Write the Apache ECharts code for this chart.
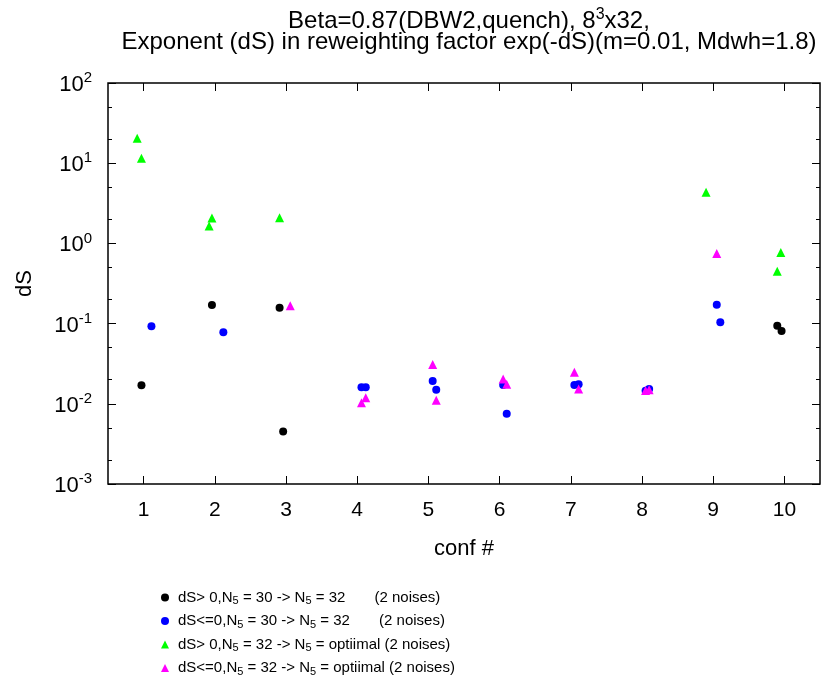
<!DOCTYPE html>
<html>
<head>
<meta charset="utf-8">
<script src="https://cdn.jsdelivr.net/npm/echarts@6/dist/echarts.min.js"></script>
<style>
  html, body { margin: 0; padding: 0; background: #fff; }
  #chart { width: 832px; height: 682px; }
</style>
</head>
<body>
<div id="chart"></div>
<script>
// conf # (with small horizontal offsets as plotted) and dS values
var confBlack = [0.97, 1.96, 2.91, 2.96, 9.90, 9.96];
var dsBlack   = [0.017, 0.17, 0.158, 0.0045, 0.094, 0.081];

var confBlue = [1.11, 2.12, 4.06, 4.12, 5.06, 5.11, 6.05, 6.10, 7.05, 7.11, 8.05, 8.10, 9.05, 9.10];
var dsBlue   = [0.093, 0.078, 0.0161, 0.0161, 0.0192, 0.015, 0.0171, 0.0075, 0.0171, 0.0175, 0.01455, 0.0153, 0.172, 0.104];

var confGreen = [0.91, 0.97, 1.92, 1.96, 2.91, 8.90, 9.90, 9.95];
var dsGreen   = [20.4, 11.5, 1.65, 2.07, 2.09, 4.33, 0.449, 0.77];

var confMagenta = [3.06, 4.06, 4.12, 5.06, 5.11, 6.05, 6.10, 7.05, 7.11, 8.05, 8.10, 9.05];
var dsMagenta   = [0.167, 0.0103, 0.0119, 0.0308, 0.0111, 0.0204, 0.0175, 0.0247, 0.0153, 0.0146, 0.015, 0.75];

var xTicks = [1, 2, 3, 4, 5, 6, 7, 8, 9, 10];
var yMajor = [0.001, 0.01, 0.1, 1, 10, 100];
var yMinor = [0.002, 0.005, 0.02, 0.05, 0.2, 0.5, 2, 5, 20, 50];

var legendNames = [
  'dS> 0,N{s|5} = 30 -> N{s|5} = 32       (2 noises)',
  'dS<=0,N{s|5} = 30 -> N{s|5} = 32       (2 noises)',
  'dS> 0,N{s|5} = 32 -> N{s|5} = optiimal (2 noises)',
  'dS<=0,N{s|5} = 32 -> N{s|5} = optiimal (2 noises)'
];

function pairs(xs, ys) {
  return xs.map(function (x, i) { return [x, ys[i]]; });
}

var font = 'Liberation Sans, Arial, sans-serif';

var chart = echarts.init(document.getElementById('chart'));

function yAxisDef(pos, ticks, len, showLabel) {
  return {
    type: 'log', logBase: 10, min: 0.001, max: 100, position: pos,
    axisLine: { show: false },
    splitLine: { show: false },
    axisTick: { show: true, inside: true, length: len, customValues: ticks,
                lineStyle: { color: '#000', width: 1 } },
    axisLabel: {
      show: showLabel, customValues: ticks, margin: 16,
      formatter: function (v) {
        var e = Math.round(Math.log10(v));
        return '{b|10}{e|' + e + '}';
      },
      rich: {
        b: { fontFamily: font, fontSize: 22, color: '#000', padding: [4, 0, 0, 0] },
        e: { fontFamily: font, fontSize: 15, color: '#000', padding: [0, 0, 10, 0] }
      }
    }
  };
}

chart.setOption({
  backgroundColor: '#fff',
  animation: false,
  title: {
    text: 'Beta=0.87(DBW2,quench), 8{sup|3}x32,\nExponent (dS) in reweighting factor exp(-dS)(m=0.01, Mdwh=1.8)',
    left: 464, top: 6, textAlign: 'center',
    textStyle: {
      fontFamily: font, fontSize: 24, fontWeight: 'normal', color: '#000', lineHeight: 21,
      rich: {
        sup: { fontFamily: font, fontSize: 16, color: '#000', padding: [0, 0, 14, 0] }
      }
    }
  },
  grid: { left: 108, right: 12, top: 83, bottom: 198, show: true, borderColor: '#000', borderWidth: 1.5 },
  xAxis: [{
    type: 'value', min: 0.5, max: 10.5, position: 'bottom',
    name: 'conf #', nameLocation: 'middle', nameGap: 54,
    nameTextStyle: { fontFamily: font, fontSize: 22, color: '#000' },
    axisLine: { show: false },
    splitLine: { show: false },
    axisTick: { inside: true, length: 8, customValues: xTicks, lineStyle: { color: '#000' } },
    axisLabel: { customValues: xTicks, margin: 16, fontFamily: font, fontSize: 21, color: '#000' }
  }, {
    type: 'value', min: 0.5, max: 10.5, position: 'top',
    axisLine: { show: false },
    splitLine: { show: false },
    axisTick: { inside: true, length: 8, customValues: xTicks, lineStyle: { color: '#000' } },
    axisLabel: { show: false }
  }],
  yAxis: [
    Object.assign(yAxisDef('left', yMajor, 8, true), {
      name: 'dS', nameLocation: 'middle', nameGap: 72, nameRotate: 90,
      nameTextStyle: { fontFamily: font, fontSize: 22, color: '#000' }
    }),
    yAxisDef('left', yMinor, 4, false),
    yAxisDef('right', yMajor, 8, false),
    yAxisDef('right', yMinor, 4, false)
  ],
  legend: {
    orient: 'vertical', left: 156, top: 585, itemGap: 7,
    itemWidth: 8, itemHeight: 8,
    data: [
      { name: legendNames[0], icon: 'circle' },
      { name: legendNames[1], icon: 'circle' },
      { name: legendNames[2], icon: 'triangle' },
      { name: legendNames[3], icon: 'triangle' }
    ],
    textStyle: {
      fontFamily: font, fontSize: 15, color: '#000', padding: [0, 0, 0, 4],
      rich: { s: { fontFamily: font, fontSize: 11, color: '#000', padding: [7, 0, 0, 0] } }
    }
  },
  series: [
    { name: legendNames[0], type: 'scatter', symbol: 'circle', symbolSize: 8,
      itemStyle: { color: '#000000', opacity: 1 }, data: pairs(confBlack, dsBlack) },
    { name: legendNames[1], type: 'scatter', symbol: 'circle', symbolSize: 8,
      itemStyle: { color: '#0000ff', opacity: 1 }, data: pairs(confBlue, dsBlue) },
    { name: legendNames[2], type: 'scatter', symbol: 'triangle', symbolSize: 9,
      itemStyle: { color: '#00ff00', opacity: 1 }, data: pairs(confGreen, dsGreen) },
    { name: legendNames[3], type: 'scatter', symbol: 'triangle', symbolSize: 9,
      itemStyle: { color: '#ff00ff', opacity: 1 }, data: pairs(confMagenta, dsMagenta) }
  ]
});
</script>
</body>
</html>
